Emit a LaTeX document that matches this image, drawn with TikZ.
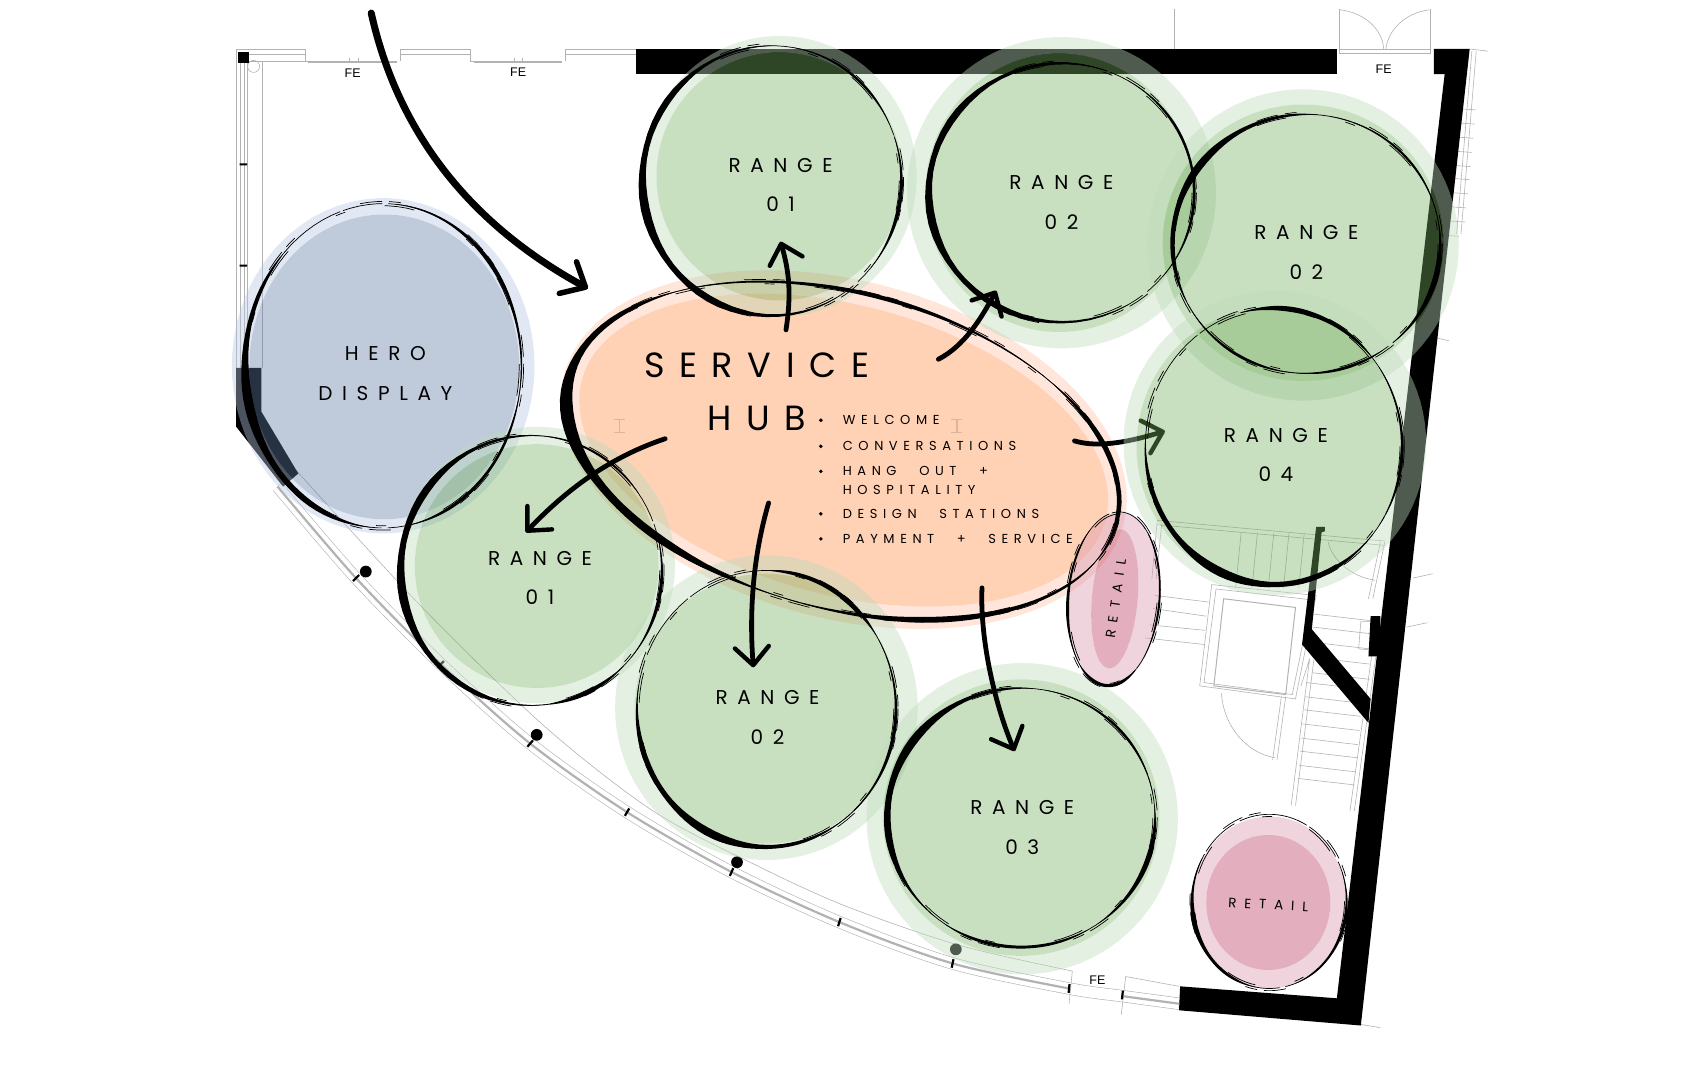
\documentclass[tikz,border=0pt]{standalone}
\usepackage{fontspec}
\setmainfont{Liberation Sans}
\newfontfamily\handfont{Poppins}
\newfontfamily\itemfont[LetterSpace=43,WordSpace=2.5]{Poppins}
\usetikzlibrary{arrows.meta}

\definecolor{greenhalo}{RGB}{188,219,186}
\definecolor{greenfill}{RGB}{118,175,97}
\definecolor{bluehalo}{RGB}{183,200,227}
\definecolor{bluefill}{RGB}{95,125,165}
\definecolor{peachhalo}{RGB}{255,192,167}
\definecolor{peachfill}{RGB}{255,140,70}
\definecolor{pinkhalo}{RGB}{217,150,175}
\definecolor{pinkfill}{RGB}{185,55,95}
\definecolor{planline}{RGB}{178,178,178}

\newcommand{\ovalpath}[5]{plot[domain=0:360,samples=91]
  ({#1+(#3)*cos(\x)*cos(#5)-(#4)*sin(\x)*sin(#5)},{#2+(#3)*cos(\x)*sin(#5)+(#4)*sin(\x)*cos(#5)}) -- cycle}
\newcommand{\bubble}[3]{%
  \fill[fill=#1halo, fill opacity=.42, even odd rule] \ovalpath#2 \ovalpath#3;
  \fill[fill=#1fill, fill opacity=.4] \ovalpath#3;}

\begin{document}
\begin{tikzpicture}[x=1.08865pt, y=-1.08865pt,
  declare function={inkw(\t,\a,\b,\w)=.3+\w*sin((\t-\a)/(\b-\a)*180)*(1+.2*sin(7*\t));}]
  \tikzstyle{plan}=[draw=planline, line width=.6pt]
  \tikzstyle{wall}=[fill=black]
  \tikzstyle{flow}=[draw, line width=4.8pt, line cap=round,
  -{Straight Barb[round, length=18pt, width=34pt, line width=4.4pt]}]
  \tikzstyle{scratch}=[draw, line width=.7pt]
  \tikzstyle{rangelabel}=[align=center, font=\handfont\addfontfeature{LetterSpace=48}\fontsize{20}{39.5}\selectfont]
  \tikzstyle{itemlabel}=[anchor=west, inner sep=0pt, font=\itemfont\fontsize{13}{15}\selectfont]
  \tikzstyle{retaillabel}=[font=\handfont\addfontfeature{LetterSpace=58}\fontsize{13.5}{15}\selectfont]
  \tikzstyle{felabel}=[font=\fontsize{12.5}{14}\selectfont]
  \tikzstyle{post}=[draw, line width=2.2pt]

  \useasboundingbox (0,0) rectangle (1568,980);

  % plan
  \draw[plan] (217,338) -- (217,45) -- (280,45) -- (280,56) -- (365,56) (368,56) -- (368,45) -- (432,45) -- (432,56) -- (516,56)
  (519,56) -- (519,45) -- (584,45);
  \draw[plan] (224,50) -- (280,50) (224,56) -- (280,56) (368,50) -- (432,50) (519,50) -- (584,50);
  \draw[draw=planline, line width=1.4pt] (283,57) -- (365,57) (435,57) -- (516,57);
  \draw[plan] (321,53) -- (321,58) (329,53) -- (329,58) (472,53) -- (472,58) (480,53) -- (480,58);
  \draw[plan] (221,58) -- (221,338) (224,58) -- (224,338) (227,58) -- (227,338) (241,57) -- (241,338);
  \draw[plan] (233,61) circle [radius=5.5];
  \draw[plan] (1079,8) -- (1079,45) -- (1228,45) (1230,8) -- (1230,49) -- (1314,49) -- (1314,8) (1230,45) -- (1314,45);
  \draw[plan] (1231,9) .. controls (1255,12) and (1270,28) .. (1271,45) (1313,9) .. controls (1290,12) and (1275,28) .. (1273,45);
  \draw[plan] (1350,45) -- (1367,47) (1352,47) -- (1338,215) (1356,47) -- (1342,215);
  \foreach \y in {100,113,126,139,152,164,177,190,203}
  \draw[plan] ({1342-(\y-100)*.1},\y) -- ({1356-(\y-100)*.1},\y+1);
  \draw[plan] (1324,216) -- (1340,217) (1313,309) -- (1331,313) (1298,531) -- (1316,527) (1292,576) -- (1311,572) (1250,941) -- (1268,944);

  \draw[plan] (255,447) -- (272,432);
  \draw[plan, double=white, double distance=11pt] plot[smooth] coordinates {(255,447) (327,531) (405,610) (487,683)
    (576,746) (672,801) (771,847) (875,885) (982,908) (1031,915) (1083,922)};
  \draw[draw=planline, line width=2.2pt] plot[smooth] coordinates {(255,447) (327,531) (405,610) (487,683)
    (576,746) (672,801) (771,847) (875,885) (982,908)};
  \draw[draw=planline, line width=2.2pt] (1031,915) -- (1083,922);
  \draw[plan] plot[smooth] coordinates {(272,432) (385,555) (500,667) (600,745) (695,795) (776,832) (880,868) (985,892)};
  \draw[plan] (985,892) -- (982,922) (1034,897) -- (1083,906) (1034,897) -- (1030,932);
  \foreach \px/\py/\nx/\ny in {327/531/-.7/.7, 405/610/-.7/.7, 487/683/-.65/.75, 576/746/-.5/.85, 672/801/-.4/.9,
    771/847/-.3/.95, 875/885/-.2/.98, 982/908/-.1/1, 1031/914/-.1/1}
  \draw[post] ({\px-4*\nx},{\py-4*\ny}) -- ({\px+4*\nx},{\py+4*\ny});
  \foreach \px/\py in {336/525, 493/675, 677/792, 878/872}
  \fill (\px,\py) circle [radius=5.4];

  \draw[plan] (1063,478) -- (1272,497) (1063,482) -- (1272,501) (1063,478) -- (1058,532) (1067,482) -- (1062,532);
  \foreach \x in {1140,1155,1170,1184,1198}
  \draw[plan] (\x,490) -- (\x-5,540);
  \draw[plan] (1272,498) -- (1261,550) (1268,498) -- (1257,550);
  \draw[plan] (1220,498) .. controls (1224,515) and (1242,530) .. (1263,533);
  \draw[plan] (1113,537) -- (1209,547) -- (1190,642) -- (1102,630) -- cycle (1117,541) -- (1205,551) -- (1187,638) -- (1106,627) -- cycle;
  \draw[plan, line width=1pt] (1124,550) -- (1190,558) -- (1181,638) -- (1115,630) -- cycle;
  \foreach \xa/\ya/\xb/\yb in {1061/547/1110/553, 1059/559/1108/566, 1056/574/1107/579, 1052/586/1106/592}
  \draw[plan] (\xa,\ya) -- (\xb,\yb);
  \draw[plan] (1122,637) .. controls (1124,668) and (1146,692) .. (1171,696) (1181,640) -- (1173,698) (1177,640) -- (1169,698);
  \draw[plan] (1203,605) -- (1186,740) (1207,605) -- (1190,740) (1264,602) -- (1244,745) (1260,602) -- (1240,745) (1203,605) -- (1195,630);
  \foreach \y in {627,640,652,665,678,690,703,715}
  \draw[plan] ({1200-(\y-627)*.09},\y) -- ({1252-(\y-627)*.09},\y+6);
  \foreach \y in {564,576,590,604,618}
  \draw[plan] (1206,\y) -- (1258,\y+6);
  \draw[plan] (1260,571) -- (1250,571) -- (1248,596) -- (1258,597);

  % walls
  \fill[wall] (584,45) rectangle (1228,68);
  \fill[wall] (1317,45) -- (1350,45) -- (1250,942) -- (1083,928) -- (1084,906) -- (1228,917) -- (1327,68) -- (1317,68) -- cycle;
  \fill[wall] (1209,484) -- (1217,484) -- (1217,488) -- (1214,489) -- (1205,578) -- (1259,642) -- (1257,664) -- (1196,592) -- cycle;
  \fill[wall] (1259,566) -- (1268,566) -- (1268,603) -- (1257,603) -- cycle;
  \fill[wall] (217,338) -- (240,338) -- (240,378) -- (274,435) -- (260,447) -- (217,392) -- cycle;
  \fill[wall] (219,48) rectangle (229,58);
  \fill[wall] (220,150) rectangle (227,152) (220,243) rectangle (227,245);

  % bubbles
  \bubble{blue}{{352}{336}{139}{154}{0}}{{353}{337}{124}{140}{0}}
  \bubble{peach}{{775}{413}{266}{155}{15}}{{775}{413.5}{249}{133}{15}}

  \coordinate (hubeast) at (987,405);
  \coordinate (rangeD) at (1070,396);
  \draw[flow] (hubeast) .. controls (1010,412) and (1040,405) .. (rangeD);

  \bubble{green}{{716}{162}{126}{129}{0}}{{716}{162}{113}{114}{0}}
  \bubble{green}{{975}{177}{142}{143}{0}}{{973}{177}{123}{128}{0}}
  \bubble{green}{{1197}{225}{143}{143}{0}}{{1197}{223}{129}{127}{0}}
  \bubble{green}{{1171}{407}{139}{140}{0}}{{1166}{410}{122}{127}{0}}
  \bubble{green}{{493}{519}{127}{127}{0}}{{493}{520}{112}{112}{0}}
  \bubble{green}{{704}{650}{139}{140}{0}}{{704}{651}{121}{124}{0}}
  \bubble{green}{{939}{752}{143}{143}{0}}{{938}{751}{127}{127}{0}}
  \bubble{pink}{{1024}{550}{42}{80}{5}}{{1024}{550}{21}{64}{5}}
  \bubble{pink}{{1166}{829}{71}{79}{0}}{{1165}{829}{57}{62}{0}}

  \foreach \x/\y in {569/391, 879/391}
  \draw[draw={rgb,255:red,222;green,178;blue,155}, line width=1.2pt] (\x-5,\y-6) -- (\x+5,\y-6) (\x,\y-6) -- (\x,\y+6) (\x-5,\y+6) -- (\x+5,\y+6);

  % brush rings
  \foreach \cx/\cy/\ra/\rb/\rot in {352/336/127/149/0, 709/166/119/124/0, 975/177/122/119/0, 1200/224/123/119/0,
    1170/410/118/127/0, 488/524/120/124/0, 704/651/119/127/0, 938/751/123/119/0, 1023/550/42/80/5, 1166/828/71/80/0, 774/414/260/145/15} {
    \draw[scratch, dash pattern=on 70pt off 3pt on 40pt off 6pt] \ovalpath{\cx}{\cy}{\ra}{\rb}{\rot};
    \draw[scratch, dash pattern=on 22pt off 7pt on 12pt off 75pt] \ovalpath{\cx}{\cy}{\ra+2}{\rb+2}{\rot};
    \draw[scratch, dash pattern=on 30pt off 60pt on 10pt off 40pt] \ovalpath{\cx}{\cy}{\ra-2}{\rb-2}{\rot};
  }
  \foreach \cx/\cy/\ra/\rb/\rot/\sta/\stb/\ww in {
    352/336/127/149/0/95/225/7, 352/336/127/149/0/275/370/3, 352/336/127/149/0/370/440/2.8,
    709/166/119/124/0/60/270/6.5, 709/166/119/124/0/280/335/2, 709/166/119/124/0/340/400/2.6,
    975/177/122/119/0/60/290/6, 975/177/122/119/0/300/400/2.4,
    1200/224/123/119/0/150/275/5.5, 1200/224/123/119/0/95/150/2, 1200/224/123/119/0/55/95/2.2, 1200/224/123/119/0/-10/50/4, 1200/224/123/119/0/280/350/1.5,
    1170/410/118/127/0/40/185/6.5, 1170/410/118/127/0/255/320/4.5, 1170/410/118/127/0/325/395/2.2,
    488/524/120/124/0/85/275/6.5, 488/524/120/124/0/275/325/2, 488/524/120/124/0/345/400/2.4, 488/524/120/124/0/45/85/3,
    704/651/119/127/0/55/190/6, 704/651/119/127/0/270/328/4.5, 704/651/119/127/0/330/415/2.4,
    938/751/123/119/0/130/275/6.5, 938/751/123/119/0/60/125/3, 938/751/123/119/0/-5/55/4, 938/751/123/119/0/280/350/1.8,
    1023/550/42/80/5/130/230/2.2, 1023/550/42/80/5/50/130/3.2, 1023/550/42/80/5/300/400/1.6,
    1166/828/71/80/0/100/210/3.4, 1166/828/71/80/0/-20/70/2.4,
    774/414/260/145/15/95/225/10, 774/414/260/145/15/15/95/4.5, 774/414/260/145/15/310/375/5, 774/414/260/145/15/225/310/3} {
    \fill plot[domain=\sta:\stb,samples=40] ({\cx+(\ra+inkw(\x,\sta,\stb,\ww)/2)*cos(\x)*cos(\rot)-(\rb+inkw(\x,\sta,\stb,\ww)/2)*sin(\x)*sin(\rot)},
      {\cy+(\ra+inkw(\x,\sta,\stb,\ww)/2)*cos(\x)*sin(\rot)+(\rb+inkw(\x,\sta,\stb,\ww)/2)*sin(\x)*cos(\rot)})
    -- plot[domain=\stb:\sta,samples=40] ({\cx+(\ra-inkw(\x,\sta,\stb,\ww)/2)*cos(\x)*cos(\rot)-(\rb-inkw(\x,\sta,\stb,\ww)/2)*sin(\x)*sin(\rot)},
      {\cy+(\ra-inkw(\x,\sta,\stb,\ww)/2)*cos(\x)*sin(\rot)+(\rb-inkw(\x,\sta,\stb,\ww)/2)*sin(\x)*cos(\rot)}) -- cycle;
  }

  % arrows
  \coordinate (entry) at (341,12);
  \coordinate (hubwest) at (540,265);
  \coordinate (hubnorth) at (722,303);
  \coordinate (rangeAtip) at (717,222);
  \coordinate (hubne) at (862,330);
  \coordinate (rangeBtip) at (915,267);
  \coordinate (hubsw) at (611,403);
  \coordinate (rangeFtip) at (483,489);
  \coordinate (hubsouth) at (706,462);
  \coordinate (rangeGtip) at (692,613);
  \coordinate (hubse) at (902,540);
  \coordinate (rangeHtip) at (932,690);
  \draw[flow, line width=7pt, -{Straight Barb[round, length=20pt, width=36pt, line width=5.5pt]}] (entry) .. controls (365,120) and (430,205) .. (hubwest);
  \draw[flow] (hubnorth) .. controls (727,270) and (725,250) .. (rangeAtip);
  \draw[flow] (hubne) .. controls (885,318) and (900,295) .. (rangeBtip);
  \draw[flow] (hubsw) .. controls (560,420) and (520,450) .. (rangeFtip);
  \draw[flow] (hubsouth) .. controls (692,510) and (688,560) .. (rangeGtip);
  \draw[flow] (hubse) .. controls (900,590) and (915,650) .. (rangeHtip);

  % text
  \node (herolabel) at (354,343) [rangelabel] {HERO\\DISPLAY};
  \node (rangeAlabel) at (717,170) [rangelabel] {RANGE\\01};
  \node (rangeBlabel) at (975,186) [rangelabel] {RANGE\\02};
  \node (rangeClabel) at (1200,232) [rangelabel] {RANGE\\02};
  \node (rangeElabel) at (1172,418) [rangelabel] {RANGE\\04};
  \node (rangeFlabel) at (496,531) [rangelabel] {RANGE\\01};
  \node (rangeGlabel) at (705,659) [rangelabel] {RANGE\\02};
  \node (rangeHlabel) at (939,760) [rangelabel] {RANGE\\03};
  \node (hubtitle) at (695,360) [align=center, font=\handfont\addfontfeature{LetterSpace=42}\fontsize{35}{53}\selectfont] {SERVICE\\HUB};
  \foreach \y/\txt/\nm in {386/WELCOME/welcome, 410/CONVERSATIONS/talk, 433/HANG OUT +/hangout, 450/HOSPITALITY/hosp,
    472/DESIGN STATIONS/design, 495/PAYMENT + SERVICE/payment}
  \node (\nm) at (774,\y) [itemlabel] {\txt};
  \foreach \y in {386,410,433,472,495}
  \fill (754,\y) circle [radius=1.8];
  \node (retailAlabel) at (1025,550) [retaillabel, rotate=82] {RETAIL};
  \node (retailBlabel) at (1165,831) [retaillabel, rotate=-3] {RETAIL};
  \node (feA) at (324,67) [felabel] {FE};
  \node (feB) at (476,66) [felabel] {FE};
  \node (feC) at (1271,64) [felabel] {FE};
  \node (feD) at (1008,900) [felabel] {FE};
\end{tikzpicture}
\end{document}
